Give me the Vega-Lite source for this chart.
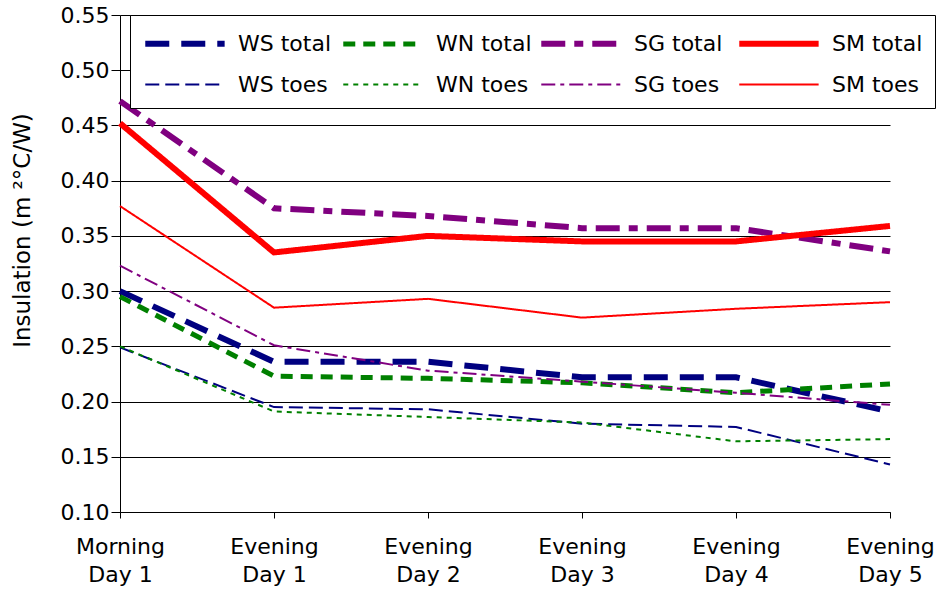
{
  "$schema": "https://vega.github.io/schema/vega-lite/v6.json",
  "width": 770,
  "height": 497,
  "autosize": {"type": "none"},
  "padding": {"left": 120, "top": 15, "right": 50, "bottom": 84},
  "background": "white",
  "config": {"view": {"stroke": null}, "font": "DejaVu Sans"},
  "data": {
    "values": [
      {"series": "WS total", "time": "Morning Day 1", "value": 0.300},
      {"series": "WS total", "time": "Evening Day 1", "value": 0.236},
      {"series": "WS total", "time": "Evening Day 2", "value": 0.236},
      {"series": "WS total", "time": "Evening Day 3", "value": 0.222},
      {"series": "WS total", "time": "Evening Day 4", "value": 0.222},
      {"series": "WS total", "time": "Evening Day 5", "value": 0.191},
      {"series": "WN total", "time": "Morning Day 1", "value": 0.295},
      {"series": "WN total", "time": "Evening Day 1", "value": 0.223},
      {"series": "WN total", "time": "Evening Day 2", "value": 0.221},
      {"series": "WN total", "time": "Evening Day 3", "value": 0.217},
      {"series": "WN total", "time": "Evening Day 4", "value": 0.208},
      {"series": "WN total", "time": "Evening Day 5", "value": 0.216},
      {"series": "SG total", "time": "Morning Day 1", "value": 0.472},
      {"series": "SG total", "time": "Evening Day 1", "value": 0.375},
      {"series": "SG total", "time": "Evening Day 2", "value": 0.368},
      {"series": "SG total", "time": "Evening Day 3", "value": 0.357},
      {"series": "SG total", "time": "Evening Day 4", "value": 0.357},
      {"series": "SG total", "time": "Evening Day 5", "value": 0.336},
      {"series": "SM total", "time": "Morning Day 1", "value": 0.452},
      {"series": "SM total", "time": "Evening Day 1", "value": 0.335},
      {"series": "SM total", "time": "Evening Day 2", "value": 0.350},
      {"series": "SM total", "time": "Evening Day 3", "value": 0.345},
      {"series": "SM total", "time": "Evening Day 4", "value": 0.345},
      {"series": "SM total", "time": "Evening Day 5", "value": 0.359},
      {"series": "WS toes", "time": "Morning Day 1", "value": 0.249},
      {"series": "WS toes", "time": "Evening Day 1", "value": 0.195},
      {"series": "WS toes", "time": "Evening Day 2", "value": 0.193},
      {"series": "WS toes", "time": "Evening Day 3", "value": 0.180},
      {"series": "WS toes", "time": "Evening Day 4", "value": 0.177},
      {"series": "WS toes", "time": "Evening Day 5", "value": 0.143},
      {"series": "WN toes", "time": "Morning Day 1", "value": 0.250},
      {"series": "WN toes", "time": "Evening Day 1", "value": 0.191},
      {"series": "WN toes", "time": "Evening Day 2", "value": 0.186},
      {"series": "WN toes", "time": "Evening Day 3", "value": 0.181},
      {"series": "WN toes", "time": "Evening Day 4", "value": 0.164},
      {"series": "WN toes", "time": "Evening Day 5", "value": 0.166},
      {"series": "SG toes", "time": "Morning Day 1", "value": 0.323},
      {"series": "SG toes", "time": "Evening Day 1", "value": 0.251},
      {"series": "SG toes", "time": "Evening Day 2", "value": 0.228},
      {"series": "SG toes", "time": "Evening Day 3", "value": 0.218},
      {"series": "SG toes", "time": "Evening Day 4", "value": 0.208},
      {"series": "SG toes", "time": "Evening Day 5", "value": 0.197},
      {"series": "SM toes", "time": "Morning Day 1", "value": 0.377},
      {"series": "SM toes", "time": "Evening Day 1", "value": 0.285},
      {"series": "SM toes", "time": "Evening Day 2", "value": 0.293},
      {"series": "SM toes", "time": "Evening Day 3", "value": 0.276},
      {"series": "SM toes", "time": "Evening Day 4", "value": 0.284},
      {"series": "SM toes", "time": "Evening Day 5", "value": 0.290}
    ]
  },
  "mark": {"type": "line", "strokeCap": "butt"},
  "encoding": {
    "x": {
      "field": "time",
      "type": "ordinal",
      "sort": ["Morning Day 1", "Evening Day 1", "Evening Day 2", "Evening Day 3", "Evening Day 4", "Evening Day 5"],
      "scale": {"type": "point", "padding": 0},
      "axis": {
        "title": null,
        "labelAngle": 0,
        "labelExpr": "[slice(datum.label,0,7), slice(datum.label,8)]",
        "labelFont": "DejaVu Sans",
        "labelFontSize": 22,
        "labelLineHeight": 28,
        "labelPadding": 18,
        "labelColor": "black",
        "tickSize": 6,
        "tickColor": "black",
        "domainColor": "black",
        "grid": false
      }
    },
    "y": {
      "field": "value",
      "type": "quantitative",
      "scale": {"domain": [0.1, 0.55], "nice": false, "zero": false},
      "axis": {
        "values": [0.1, 0.15, 0.2, 0.25, 0.3, 0.35, 0.4, 0.45, 0.5, 0.55],
        "format": ".2f",
        "labelFont": "DejaVu Sans",
        "labelFontSize": 22,
        "labelColor": "black",
        "labelPadding": 2,
        "tickSize": 9,
        "tickColor": "black",
        "domainColor": "black",
        "grid": true,
        "gridColor": "black",
        "gridOpacity": 1,
        "title": "Insulation (m ²°C/W)",
        "titleFont": "DejaVu Sans",
        "titleFontSize": 23,
        "titleFontWeight": "normal",
        "titleColor": "black",
        "titleX": -98,
        "titleY": 215,
        "titleBaseline": "middle"
      }
    },
    "color": {
      "field": "series",
      "type": "nominal",
      "scale": {
        "domain": ["WS total", "WN total", "SG total", "SM total", "WS toes", "WN toes", "SG toes", "SM toes"],
        "range": ["#000080", "#008000", "#800080", "#FF0000", "#000080", "#008000", "#800080", "#FF0000"]
      },
      "legend": {
        "title": null,
        "orient": "none",
        "legendX": 10,
        "legendY": 0,
        "columns": 4,
        "direction": "horizontal",
        "symbolType": "M-1,0H5",
        "symbolSize": 700,
        "labelFont": "DejaVu Sans",
        "labelFontSize": 22,
        "labelColor": "black",
        "labelOffset": 63,
        "columnPadding": -3,
        "rowPadding": 14,
        "padding": 12,
        "strokeColor": "black",
        "fillColor": "white",
        "gridAlign": "all"
      }
    },
    "strokeDash": {
      "field": "series",
      "type": "nominal",
      "scale": {
        "domain": ["WS total", "WN total", "SG total", "SM total", "WS toes", "WN toes", "SG toes", "SM toes"],
        "range": [[24, 12], [12, 8], [24, 9, 9, 9], [1, 0], [14, 6], [5, 5], [14, 5, 4, 5], [1, 0]]
      }
    },
    "strokeWidth": {
      "field": "series",
      "type": "ordinal",
      "scale": {
        "type": "ordinal",
        "domain": ["WS total", "WN total", "SG total", "SM total", "WS toes", "WN toes", "SG toes", "SM toes"],
        "range": [6, 5, 6, 6, 2, 2, 2, 2]
      }
    }
  }
}
